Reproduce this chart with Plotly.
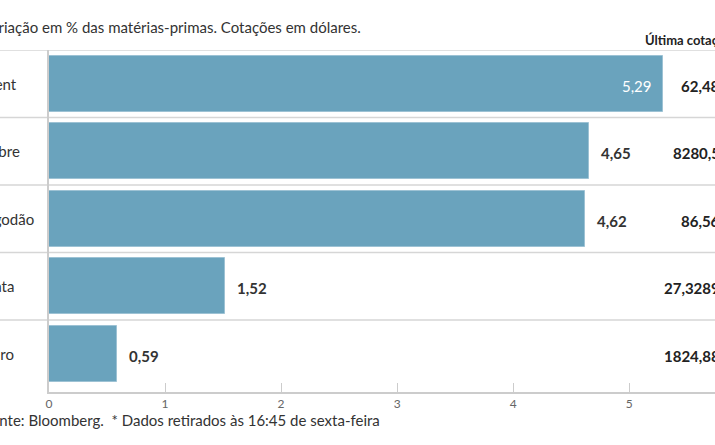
import plotly.graph_objects as go

categories = ["Brent", "Cobre", "Algodão", "Prata", "Ouro"]
variation = [5.29, 4.65, 4.62, 1.52, 0.59]
variation_labels = ["5,29", "4,65", "4,62", "1,52", "0,59"]
last_quote = ["62,48", "8280,5", "86,56", "27,3289", "1824,88"]
tick_vals = [0, 1, 2, 3, 4, 5]
tick_text = ["0", "1", "2", "3", "4", "5"]

title_text = "Variação em % das matérias-primas. Cotações em dólares."
header_text = "Última cotação*"
footer_text = "Fonte: Bloomberg.  * Dados retirados às 16:45 de sexta-feira"

W, H = 715, 445
L, R, T, B = 49.3, 0, 50, 53
PW = W - L - R
PH = H - T - B
PX_PER_UNIT = 116.0

def px_x(px):
    return (px - L) / PW

def px_y(py):
    return (H - B - py) / PH

FONT = "Lato, 'Open Sans', sans-serif"
BAR = "#6aa3bd"

fig = go.Figure()
fig.add_trace(go.Bar(
    x=variation, y=categories, orientation="h",
    width=0.83,
    marker=dict(color=BAR, line=dict(color="#9dc2d4", width=1)),
    hoverinfo="skip",
))

annotations = []
max_v = max(variation)
for c, v, lab, q in zip(categories, variation, variation_labels, last_quote):
    if v == max_v:
        annotations.append(dict(x=v, y=c, xref="x", yref="y", text=lab, showarrow=False,
                                xanchor="right", xshift=-9, yshift=-2,
                                font=dict(family=FONT, size=15, color="white")))
    else:
        annotations.append(dict(x=v, y=c, xref="x", yref="y", text="<b>" + lab + "</b>", showarrow=False,
                                xanchor="left", xshift=10, yshift=-2,
                                font=dict(family=FONT, size=15, color="#333333")))
    annotations.append(dict(x=px_x(722), y=c, xref="paper", yref="y", text="<b>" + q + "</b>",
                            showarrow=False, xanchor="right", yshift=-2,
                            font=dict(family=FONT, size=15, color="#222222")))
    annotations.append(dict(x=px_x(-22), y=c, xref="paper", yref="y", text=c,
                            showarrow=False, xanchor="left", yshift=0,
                            font=dict(family=FONT, size=15, color="#333333")))

annotations.append(dict(x=px_x(-20), y=px_y(27), xref="paper", yref="paper", text=title_text,
                        showarrow=False, xanchor="left", yanchor="middle",
                        font=dict(family=FONT, size=15, color="#333333")))
annotations.append(dict(x=px_x(643), y=px_y(40), xref="paper", yref="paper", text="<b>" + header_text + "</b>",
                        showarrow=False, xanchor="left", yanchor="middle",
                        font=dict(family=FONT, size=13, color="#222222")))
annotations.append(dict(x=px_x(-19), y=px_y(420), xref="paper", yref="paper", text=footer_text,
                        showarrow=False, xanchor="left", yanchor="middle",
                        font=dict(family=FONT, size=15, color="#333333")))

n = len(categories)
shapes = []
for i in range(n):
    shapes.append(dict(type="line", xref="paper", yref="y", x0=px_x(-5), x1=px_x(720),
                       y0=i - 0.5, y1=i - 0.5, line=dict(color="#d6d6d6", width=1.5), layer="below"))

row_px = 67.5
y_bottom = -0.5 + PH / row_px

fig.update_layout(
    width=W, height=H,
    margin=dict(l=L, r=R, t=T, b=B, pad=0),
    paper_bgcolor="white", plot_bgcolor="white",
    showlegend=False,
    bargap=0,
    xaxis=dict(range=[0, PW / PX_PER_UNIT], tickvals=tick_vals, ticktext=tick_text,
               showgrid=False, zeroline=False, showline=True, linecolor="#cccccc", linewidth=1.5,
               ticks="inside", ticklen=9, tickcolor="#cccccc", tickwidth=1,
               tickfont=dict(family=FONT, size=12, color="#666666"), fixedrange=True),
    yaxis=dict(type="category", categoryorder="array", categoryarray=categories,
               range=[y_bottom, -0.5], showticklabels=False, showgrid=False, zeroline=False,
               showline=True, linecolor="#cccccc", linewidth=1.5, ticks="", fixedrange=True),
    annotations=annotations,
    shapes=shapes,
)

fig.write_html("out.html", config={"displayModeBar": False},
               post_script="document.body.style.margin='0';document.body.style.overflow='hidden';")
